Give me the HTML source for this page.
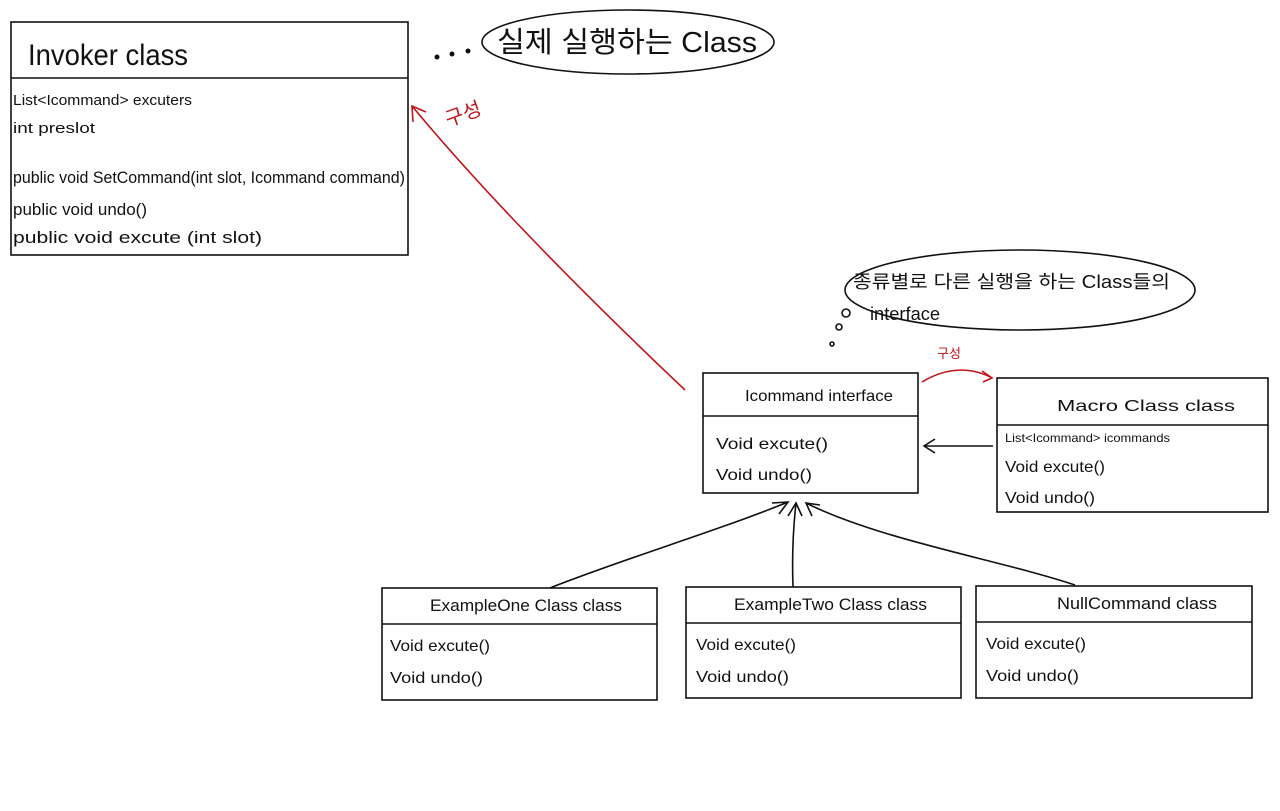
<!DOCTYPE html>
<html><head><meta charset="utf-8"><style>
html,body{margin:0;padding:0;background:#fff;}
svg text{font-family:"Liberation Sans","Noto Sans CJK KR",sans-serif;fill:#111;}
</style></head><body>
<svg width="1280" height="806" viewBox="0 0 1280 806" xmlns="http://www.w3.org/2000/svg">
<g fill="none" stroke="#111" stroke-width="1.6">
<rect x="11" y="22" width="397" height="233"/><line x1="11" y1="78" x2="408" y2="78"/>
<rect x="703" y="373" width="215" height="120"/><line x1="703" y1="416" x2="918" y2="416"/>
<rect x="997" y="378" width="271" height="134"/><line x1="997" y1="425" x2="1268" y2="425"/>
<rect x="382" y="588" width="275" height="112"/><line x1="382" y1="624" x2="657" y2="624"/>
<rect x="686" y="587" width="275" height="111"/><line x1="686" y1="623" x2="961" y2="623"/>
<rect x="976" y="586" width="276" height="112"/><line x1="976" y1="622" x2="1252" y2="622"/>
<ellipse cx="628" cy="42" rx="146" ry="32"/>
<ellipse cx="1020" cy="290" rx="175" ry="40"/>
<circle cx="846" cy="313" r="4"/><circle cx="839" cy="327" r="3"/><circle cx="832" cy="344" r="2"/>
<path d="M993 446 L924 446 M935 439 L924 446 L935 453"/>
<path d="M550 588 C620 560 720 530 788 502 M772 503 L788 502 L779 514"/>
<path d="M793 587 C792 560 793 530 796 503 M788 516 L796 503 L802 516"/>
<path d="M1075 585 C1000 560 880 540 806 503 M812 516 L806 503 L820 505"/>
</g>
<g fill="#111"><circle cx="437" cy="57" r="2.5"/><circle cx="452" cy="54" r="2.5"/><circle cx="468" cy="51" r="2.5"/></g>
<g fill="none" stroke="#c0141a" stroke-width="1.6">
<path d="M685 390 C590 300 490 200 412 106 M413 122 L412 106 L426 112"/>
<path d="M922 382 C945 368 970 366 992 378 M982 371 L992 378 L983 382"/>
</g>
<text x="445" y="122" font-size="20" style="fill:#c0141a" transform="rotate(-20 460 115)">구성</text>
<text x="937" y="358" font-size="13" style="fill:#c0141a">구성</text>
<text x="28" y="65" font-size="30" textLength="160" lengthAdjust="spacingAndGlyphs">Invoker class</text>
<text x="13" y="105" font-size="15" textLength="179" lengthAdjust="spacingAndGlyphs">List&lt;Icommand&gt; excuters</text>
<text x="13" y="133" font-size="15" textLength="82" lengthAdjust="spacingAndGlyphs">int preslot</text>
<text x="13" y="183" font-size="17" textLength="392" lengthAdjust="spacingAndGlyphs">public void SetCommand(int slot, Icommand command)</text>
<text x="13" y="215" font-size="17" textLength="134" lengthAdjust="spacingAndGlyphs">public void undo()</text>
<text x="13" y="243" font-size="17" textLength="249" lengthAdjust="spacingAndGlyphs">public void excute (int slot)</text>
<text x="497" y="52" font-size="29" textLength="260" lengthAdjust="spacingAndGlyphs">실제 실행하는 Class</text>
<text x="853" y="288" font-size="18" textLength="317" lengthAdjust="spacingAndGlyphs">종류별로 다른 실행을 하는 Class들의</text>
<text x="870" y="320" font-size="18" textLength="70" lengthAdjust="spacingAndGlyphs">interface</text>
<text x="745" y="401" font-size="16" textLength="148" lengthAdjust="spacingAndGlyphs">Icommand interface</text>
<text x="716" y="449" font-size="16" textLength="112" lengthAdjust="spacingAndGlyphs">Void excute()</text>
<text x="716" y="480" font-size="16" textLength="96" lengthAdjust="spacingAndGlyphs">Void undo()</text>
<text x="1057" y="411" font-size="16" textLength="178" lengthAdjust="spacingAndGlyphs">Macro Class      class</text>
<text x="1005" y="442" font-size="12" textLength="165" lengthAdjust="spacingAndGlyphs">List&lt;Icommand&gt; icommands</text>
<text x="1005" y="472" font-size="16" textLength="100" lengthAdjust="spacingAndGlyphs">Void excute()</text>
<text x="1005" y="503" font-size="16" textLength="90" lengthAdjust="spacingAndGlyphs">Void undo()</text>
<text x="430" y="611" font-size="17" textLength="192" lengthAdjust="spacingAndGlyphs">ExampleOne Class   class</text>
<text x="390" y="651" font-size="16" textLength="100" lengthAdjust="spacingAndGlyphs">Void excute()</text>
<text x="390" y="683" font-size="16" textLength="93" lengthAdjust="spacingAndGlyphs">Void undo()</text>
<text x="734" y="610" font-size="17" textLength="193" lengthAdjust="spacingAndGlyphs">ExampleTwo Class   class</text>
<text x="696" y="650" font-size="16" textLength="100" lengthAdjust="spacingAndGlyphs">Void excute()</text>
<text x="696" y="682" font-size="16" textLength="93" lengthAdjust="spacingAndGlyphs">Void undo()</text>
<text x="1057" y="609" font-size="17" textLength="160" lengthAdjust="spacingAndGlyphs">NullCommand    class</text>
<text x="986" y="649" font-size="16" textLength="100" lengthAdjust="spacingAndGlyphs">Void excute()</text>
<text x="986" y="681" font-size="16" textLength="93" lengthAdjust="spacingAndGlyphs">Void undo()</text>
</svg>
</body></html>
